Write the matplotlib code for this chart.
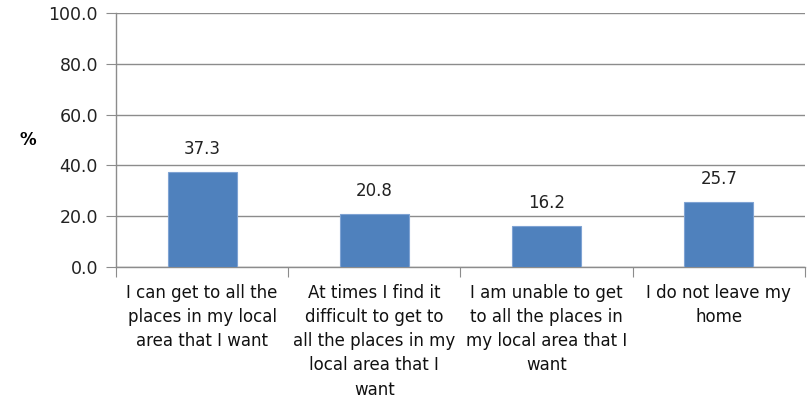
import matplotlib.pyplot as plt

categories = [
    "I can get to all the\nplaces in my local\narea that I want",
    "At times I find it\ndifficult to get to\nall the places in my\nlocal area that I\nwant",
    "I am unable to get\nto all the places in\nmy local area that I\nwant",
    "I do not leave my\nhome",
]
values = [37.3, 20.8, 16.2, 25.7]
y_ticks = [0, 20, 40, 60, 80, 100]

fig = plt.figure(figsize=(8.11, 4.05), dpi=100)
ax = fig.add_axes([0.143, 0.341, 0.8496, 0.627])

x = range(len(values))
bars = ax.bar(x, values, width=0.4, color="#4F81BD", edgecolor="#7FA3D3",
              linewidth=0.8, zorder=3)

# value labels above bars
for b, v in zip(bars, values):
    ax.annotate(f"{v:.1f}", (b.get_x() + b.get_width() / 2, v),
                xytext=(0, 10), textcoords="offset points",
                ha="center", va="bottom", fontsize=12, color="#222222",
                family="DejaVu Sans")

ax.set_xlim(-0.5, len(values) - 0.5)
ax.set_ylim(0, 100)
ax.set_yticks(y_ticks)
ax.set_yticklabels([f"{t:.1f}" for t in y_ticks], fontsize=12.5,
                   family="DejaVu Sans", color="#222222")
ax.yaxis.grid(True, color="#8c8c8c", linewidth=1, zorder=0)

# category labels between tick marks at the boundaries
ax.set_xticks([i - 0.5 for i in range(len(values) + 1)])
ax.set_xticklabels([])
ax.set_xticks(list(x), minor=True)
ax.set_xticklabels(categories, minor=True, fontsize=12,
                   family="DejaVu Sans", linespacing=1.45,
                   va="top", color="#111111")
ax.tick_params(axis="x", which="minor", length=0, pad=12)
ax.tick_params(axis="x", which="major", length=7, color="#8c8c8c", direction="out")
ax.tick_params(axis="y", length=7, color="#8c8c8c", pad=6)

for s in ["top", "right"]:
    ax.spines[s].set_visible(False)
for s in ["left", "bottom"]:
    ax.spines[s].set_color("#8c8c8c")
    ax.spines[s].set_linewidth(1)

fig.text(0.034, 0.655, "%", fontsize=12, fontweight="bold",
         ha="center", va="center", family="DejaVu Sans")

fig.savefig("out.png", dpi=100)
